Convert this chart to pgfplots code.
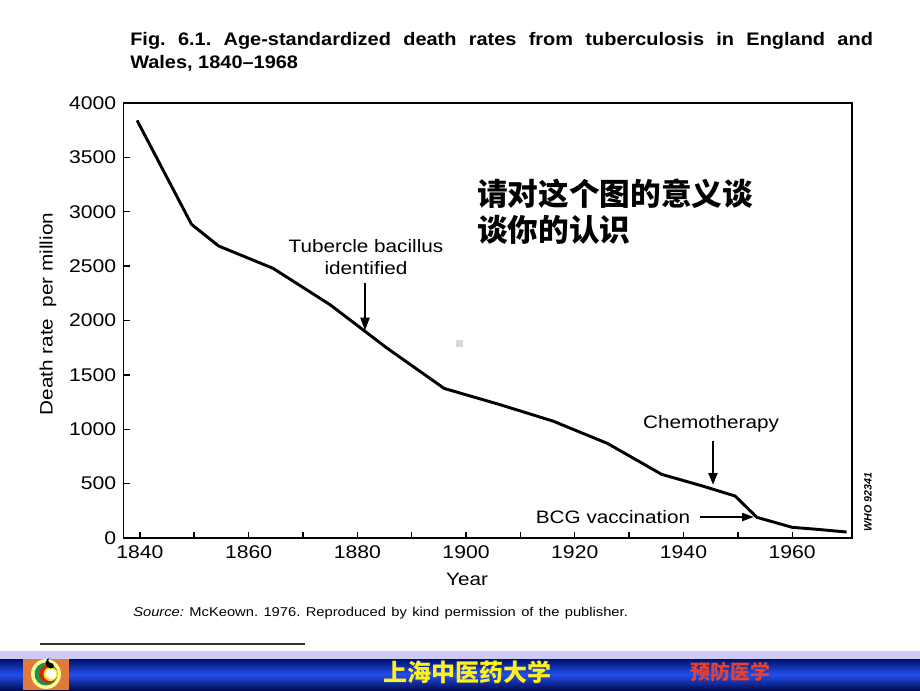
\documentclass[border=0pt]{standalone}
\usepackage{pgfplots}
\pgfplotsset{compat=1.18}
\usepackage{fontspec}
\usetikzlibrary{arrows.meta}
\setmainfont{Liberation Sans}[FakeStretch=1.15]
\newfontfamily\titlefont{Liberation Sans}[FakeStretch=1.1]
\newfontfamily\whofont{Liberation Sans}
\newfontfamily\cjk{Noto Sans CJK SC}
\definecolor{lavender}{HTML}{CCCCF6}
\definecolor{navy}{HTML}{00106A}
\definecolor{brightblue}{HTML}{2250EE}
\definecolor{logoorange}{HTML}{E07A3A}
\definecolor{logogreen}{HTML}{1F9440}
\definecolor{logored}{HTML}{D82020}
\definecolor{banneryellow}{HTML}{FFF21A}
\definecolor{bannerred}{HTML}{E8402A}
\frenchspacing

\begin{document}
\begin{tikzpicture}
% everything but the axis is drawn in the reference's pixel units, y downwards
\begin{scope}[x=0.75pt,y=-0.75pt,yshift=517.5pt]
\fill[white] (0,0) rectangle (920,690);
\useasboundingbox (0,0) rectangle (920,690);

% title
\node[anchor=base west,inner sep=0pt] at (130,46)
  {\titlefont\bfseries\fontsize{13.6}{15}\selectfont\makebox[557pt][s]{Fig. 6.1. Age-standardized death rates from tuberculosis in England and}};
\node[anchor=base west,inner sep=0pt] at (130,69)
  {\titlefont\bfseries\fontsize{13.6}{15}\selectfont Wales, 1840–1968};

% axis titles
\node[rotate=90,font=\fontsize{13.5}{15}\selectfont] at (48,314) {Death rate\ \ per million};
\node[font=\fontsize{13.5}{15}\selectfont] at (467,579) {Year};

% annotations
\node[align=center,font=\fontsize{13.5}{16}\selectfont,inner sep=0pt] at (366,257) {Tubercle bacillus\\identified};
\draw[line width=2.2pt,-{Triangle[length=10pt,width=6.5pt]}] (365,283) -- (365,331);
\node[font=\fontsize{13.5}{15}\selectfont,inner sep=0pt] at (711,424) {Chemotherapy};
\draw[line width=2.2pt,-{Triangle[length=9pt,width=6.5pt]}] (713,441) -- (713,485);
\node[font=\fontsize{13.5}{15}\selectfont,inner sep=0pt] at (613,517) {BCG vaccination};
\draw[line width=1.6pt,-{Triangle[length=9pt,width=6pt]}] (700,517) -- (754,517);
\node[rotate=90,font=\whofont\bfseries\itshape\fontsize{8}{9}\selectfont] at (868,502) {WHO 92341};

% Chinese question
\node[anchor=west,inner sep=0pt,font=\cjk\bfseries\fontsize{23}{26}\selectfont] at (477,194) {请对这个图的意义谈};
\node[anchor=west,inner sep=0pt,font=\cjk\bfseries\fontsize{23}{26}\selectfont] at (477,230) {谈你的认识};

% source line
\node[anchor=base west,inner sep=0pt] at (133,616)
  {\fontsize{9.6}{11}\selectfont\makebox[371pt][s]{\textit{Source:} McKeown. 1976. Reproduced by kind permission of the publisher.}};
\draw[line width=1.1pt,black!80] (40,644) -- (305,644);

% speckle
\fill[black!15] (456,340) rectangle (463,347);

% banner
\fill[lavender] (0,651) rectangle (920,659);
\shade[top color=navy, bottom color=navy!80!black, middle color=brightblue] (0,659) rectangle (920,690);
\fill[logoorange] (23,659) rectangle (69,690);
\fill[yellow!40!white] (46,674) circle (15);
\fill[logogreen] (46,674) circle (11.5);
\fill[logored] (48.5,674) circle (9);
\fill[yellow!90!orange] (50.5,674) circle (7);
\fill[white] (51,674) circle (5.5);
\fill[black] (51,668.5) arc (90:270:5.5) arc (270:90:2.75) arc (-90:90:2.75);
\node[anchor=west,inner sep=0pt,text=banneryellow,font=\cjk\bfseries\fontsize{18}{20}\selectfont] at (383,672) {上海中医药大学};
\node[anchor=west,inner sep=0pt,text=bannerred,font=\cjk\bfseries\fontsize{15}{17}\selectfont] at (690,672) {预防医学};
\end{scope}

\begin{axis}[
    at={(92.625pt,114pt)}, anchor=south west,
    scale only axis, width=546.4pt, height=326.25pt,
    xmin=1837, xmax=1971, ymin=0, ymax=4000,
    xtick={1840,1860,...,1960},
    minor xtick={1850,1870,...,1950},
    ytick={0,500,...,4000},
    xtick pos=bottom, ytick pos=left,
    tick align=inside,
    major tick length=4.5pt, minor tick length=4.5pt,
    axis line style={line width=1.1pt},
    every tick/.style={black, line width=1.1pt},
    ticklabel style={font=\fontsize{13.8}{15}\selectfont},
    xticklabel style={yshift=-2.5pt},
    yticklabel style={xshift=-2pt},
    /pgf/number format/assume math mode=true,
    /pgf/number format/1000 sep={},
  ]
  \addplot[black, line width=2.2pt, line join=round] coordinates {
    (1839.5,3840) (1849.5,2885) (1854.5,2685) (1864.5,2480) (1875,2145)
    (1885.5,1745) (1896,1375) (1906,1230) (1916,1075) (1926,870)
    (1936,585) (1943.5,478) (1949.5,386) (1953.5,190) (1960,98)
    (1964.5,80) (1970,55)
  };
\end{axis}
\end{tikzpicture}
\end{document}
